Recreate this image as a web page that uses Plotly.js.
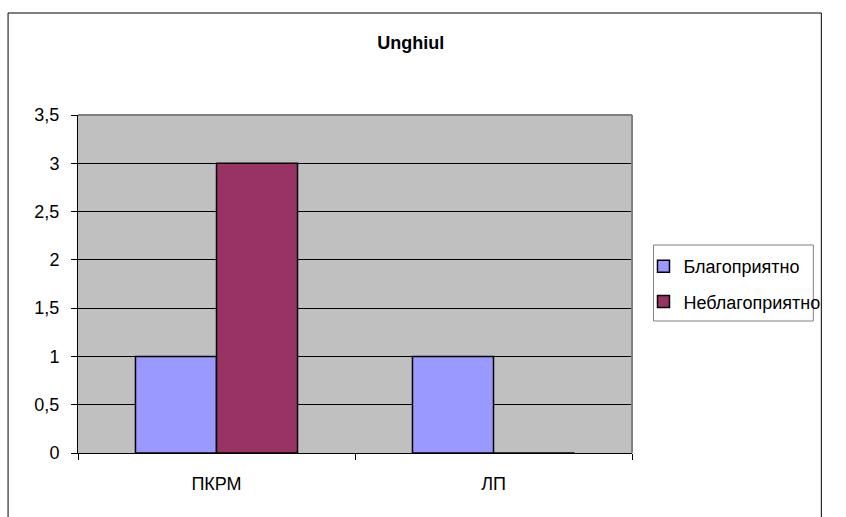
<!DOCTYPE html>
<html><head><meta charset="utf-8">
<script src="https://cdn.plot.ly/plotly-3.0.1.min.js"></script>
<style>body{margin:0;background:#fff}#c{width:846px;height:517px}</style>
</head><body><div id="c"></div>
<script>
const categories = ['ПКРМ', 'ЛП'];
const seriesNames = ['Благоприятно', 'Неблагоприятно'];
const favorable = [1, 1];
const unfavorable = [3, 0];
const colors = ['#9999FF', '#993366'];

const L = 78, R = 632.5, T = 115, B = 453, W = 846, H = 517;
const pw = R - L, ph = B - T;
const px = v => (v - L) / pw;
const py = v => (B - v) / ph;

const traces = [favorable, unfavorable].map((vals, i) => ({
  type: 'bar', x: categories, y: vals, name: seriesNames[i], legendgroup: 'g' + i,
  marker: {color: colors[i], line: {color: '#000', width: 1.5}}
}));

const layout = {
  width: W, height: H,
  margin: {l: L, r: W - R, t: T, b: H - B, pad: 0},
  paper_bgcolor: '#fff', plot_bgcolor: '#C0C0C0',
  font: {family: 'Liberation Sans, Arial, sans-serif', size: 18, color: '#000'},
  separators: ', ',
  title: {text: '<b>Unghiul</b>', x: px(411), xref: 'paper', xanchor: 'center',
          y: 1 - 43 / H, yanchor: 'middle', font: {size: 18}},
  barmode: 'group', bargap: 0.415, bargroupgap: 0,
  showlegend: true,
  legend: {x: px(644), y: py(248), xanchor: 'left', yanchor: 'top',
           borderwidth: 0, bgcolor: 'rgba(0,0,0,0)',
           font: {size: 18}, tracegroupgap: 9},
  xaxis: {showgrid: false, showline: true, linecolor: '#000', linewidth: 1,
          ticks: 'outside', ticklen: 6, tickcolor: '#000', tickson: 'boundaries',
          ticklabelstandoff: 14, tickfont: {size: 18}, zeroline: false, fixedrange: true},
  yaxis: {range: [0, 3.5], dtick: 0.5, tickformat: '.1~f', showgrid: true, gridcolor: '#000', gridwidth: 1,
          showline: true, linecolor: '#000', linewidth: 1, ticks: 'outside', ticklen: 6,
          ticklabelstandoff: 8, tickcolor: '#000', tickfont: {size: 18}, zeroline: false, fixedrange: true},
  shapes: [
    {type: 'line', xref: 'paper', yref: 'paper', x0: 0, x1: 1, y0: 1, y1: 1, line: {color: '#808080', width: 2}},
    {type: 'line', xref: 'paper', yref: 'paper', x0: 1, x1: 1, y0: 0, y1: 1, line: {color: '#808080', width: 2}},
    {type: 'rect', xref: 'paper', yref: 'paper', x0: px(654), x1: px(814), y0: py(321), y1: py(245),
     line: {color: '#808080', width: 1}, fillcolor: 'rgba(0,0,0,0)', layer: 'above'},
    {type: 'rect', xref: 'paper', yref: 'paper', x0: px(8), x1: px(822), y0: py(530), y1: py(13),
     line: {color: '#000', width: 1}, fillcolor: 'rgba(0,0,0,0)', layer: 'above'}
  ]
};
Plotly.newPlot('c', traces, layout, {displayModeBar: false, staticPlot: true});
</script></body></html>
